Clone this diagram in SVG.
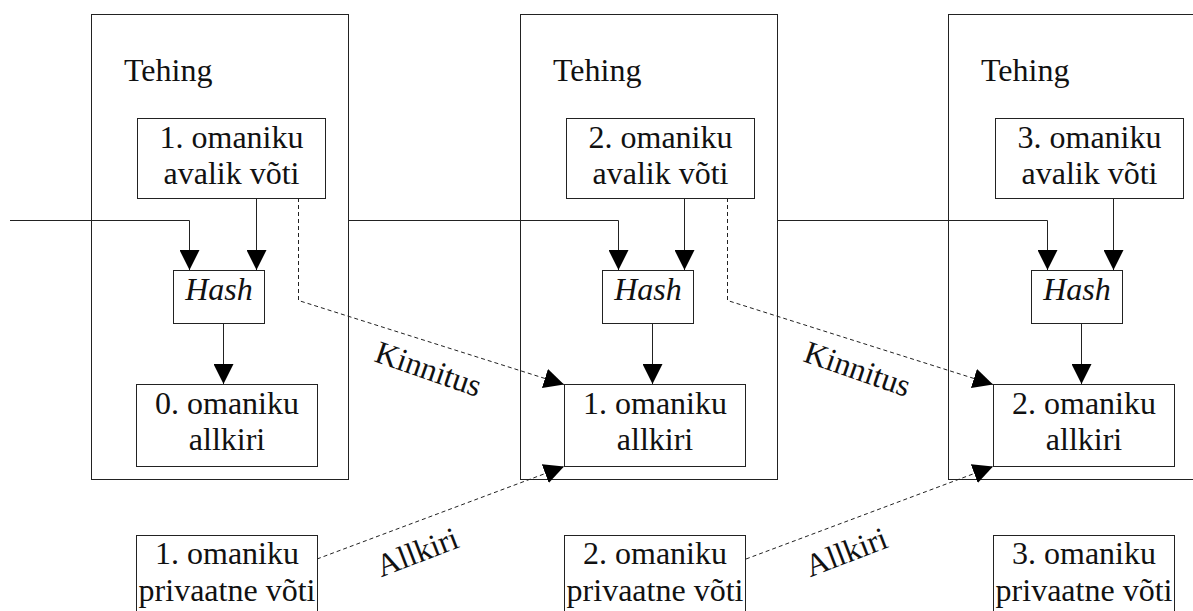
<svg xmlns="http://www.w3.org/2000/svg" width="1193" height="611" viewBox="0 0 1193 611">
  <style>
    .frame { fill: #fff; stroke: #222; stroke-width: 1; }
    .box { fill: #fff; stroke: #222; stroke-width: 1; }
    .link { fill: none; stroke: #222; stroke-width: 1; }
    .dash { fill: none; stroke: #222; stroke-width: 1; stroke-dasharray: 4 3; }
    text { font-family: "Liberation Serif", "Times New Roman", serif; font-size: 32px; fill: #111; }
    .c { text-anchor: middle; }
    .it { font-style: italic; }
  </style>
  <defs>
    <marker id="head" markerUnits="userSpaceOnUse" markerWidth="20" markerHeight="20" refX="20" refY="10" orient="auto">
      <path d="M0,0 L20,10 L0,20 z" fill="#000"/>
    </marker>
  </defs>

  <!-- transaction frames -->
  <g id="tx1">
    <rect class="frame" x="91.5" y="14.5" width="257" height="465"/>
    <text x="124" y="81">Tehing</text>
  </g>
  <g id="tx2">
    <rect class="frame" x="520.5" y="14.5" width="257" height="465"/>
    <text x="553" y="81">Tehing</text>
  </g>
  <g id="tx3">
    <rect class="frame" x="948.5" y="14.5" width="257" height="465"/>
    <text x="981" y="81">Tehing</text>
  </g>

  <!-- public keys -->
  <g id="pub1">
    <rect class="box" x="137.5" y="118.5" width="188" height="80"/>
    <text class="c" x="231.5" y="148">1. omaniku</text>
    <text class="c" x="231.5" y="184">avalik võti</text>
  </g>
  <g id="pub2">
    <rect class="box" x="566.5" y="118.5" width="188" height="80"/>
    <text class="c" x="660.5" y="148">2. omaniku</text>
    <text class="c" x="660.5" y="184">avalik võti</text>
  </g>
  <g id="pub3">
    <rect class="box" x="995.5" y="118.5" width="188" height="80"/>
    <text class="c" x="1089.5" y="148">3. omaniku</text>
    <text class="c" x="1089.5" y="184">avalik võti</text>
  </g>

  <!-- hash blocks -->
  <g id="hash1">
    <rect class="box" x="173.5" y="270.5" width="91" height="53"/>
    <text class="c it" x="219" y="300">Hash</text>
  </g>
  <g id="hash2">
    <rect class="box" x="602.5" y="270.5" width="91" height="53"/>
    <text class="c it" x="648" y="300">Hash</text>
  </g>
  <g id="hash3">
    <rect class="box" x="1031.5" y="270.5" width="91" height="53"/>
    <text class="c it" x="1077" y="300">Hash</text>
  </g>

  <!-- signatures -->
  <g id="sig0">
    <rect class="box" x="136.5" y="384.5" width="181" height="82"/>
    <text class="c" x="227" y="414">0. omaniku</text>
    <text class="c" x="227" y="450">allkiri</text>
  </g>
  <g id="sig1">
    <rect class="box" x="564.5" y="384.5" width="181" height="82"/>
    <text class="c" x="655" y="414">1. omaniku</text>
    <text class="c" x="655" y="450">allkiri</text>
  </g>
  <g id="sig2">
    <rect class="box" x="993.5" y="384.5" width="181" height="82"/>
    <text class="c" x="1084" y="414">2. omaniku</text>
    <text class="c" x="1084" y="450">allkiri</text>
  </g>

  <!-- private keys -->
  <g id="priv1">
    <rect class="box" x="136.5" y="535.5" width="181" height="90"/>
    <text class="c" x="227" y="564">1. omaniku</text>
    <text class="c" x="227" y="601">privaatne võti</text>
  </g>
  <g id="priv2">
    <rect class="box" x="564.5" y="535.5" width="181" height="90"/>
    <text class="c" x="655" y="564">2. omaniku</text>
    <text class="c" x="655" y="601">privaatne võti</text>
  </g>
  <g id="priv3">
    <rect class="box" x="993.5" y="535.5" width="181" height="90"/>
    <text class="c" x="1084" y="564">3. omaniku</text>
    <text class="c" x="1084" y="601">privaatne võti</text>
  </g>

  <!-- connectors -->
  <g id="connectors">
    <path class="link" d="M10,220.5 H189.5 V270" marker-end="url(#head)"/>
    <path class="link" d="M256.5,198 V270" marker-end="url(#head)"/>
    <path class="link" d="M223.5,324 V384" marker-end="url(#head)"/>

    <path class="link" d="M348,220.5 H618.5 V270" marker-end="url(#head)"/>
    <path class="link" d="M684.5,198 V270" marker-end="url(#head)"/>
    <path class="link" d="M652.5,324 V384" marker-end="url(#head)"/>

    <path class="link" d="M777,220.5 H1047.5 V270" marker-end="url(#head)"/>
    <path class="link" d="M1113.5,198 V270" marker-end="url(#head)"/>
    <path class="link" d="M1081.5,324 V384" marker-end="url(#head)"/>

    <path class="dash" d="M298.5,198 V300.5 L564,384.5" marker-end="url(#head)"/>
    <path class="dash" d="M727.5,198 V300.5 L993,384.5" marker-end="url(#head)"/>

    <path class="dash" d="M317,559 L564,466.5" marker-end="url(#head)"/>
    <path class="dash" d="M746,559 L993,466.5" marker-end="url(#head)"/>

    <text class="c" transform="translate(425,379) rotate(19)">Kinnitus</text>
    <text class="c" transform="translate(854,379) rotate(19)">Kinnitus</text>
    <text class="c" transform="translate(421,562) rotate(-21)">Allkiri</text>
    <text class="c" transform="translate(850,562) rotate(-21)">Allkiri</text>
  </g>
</svg>
